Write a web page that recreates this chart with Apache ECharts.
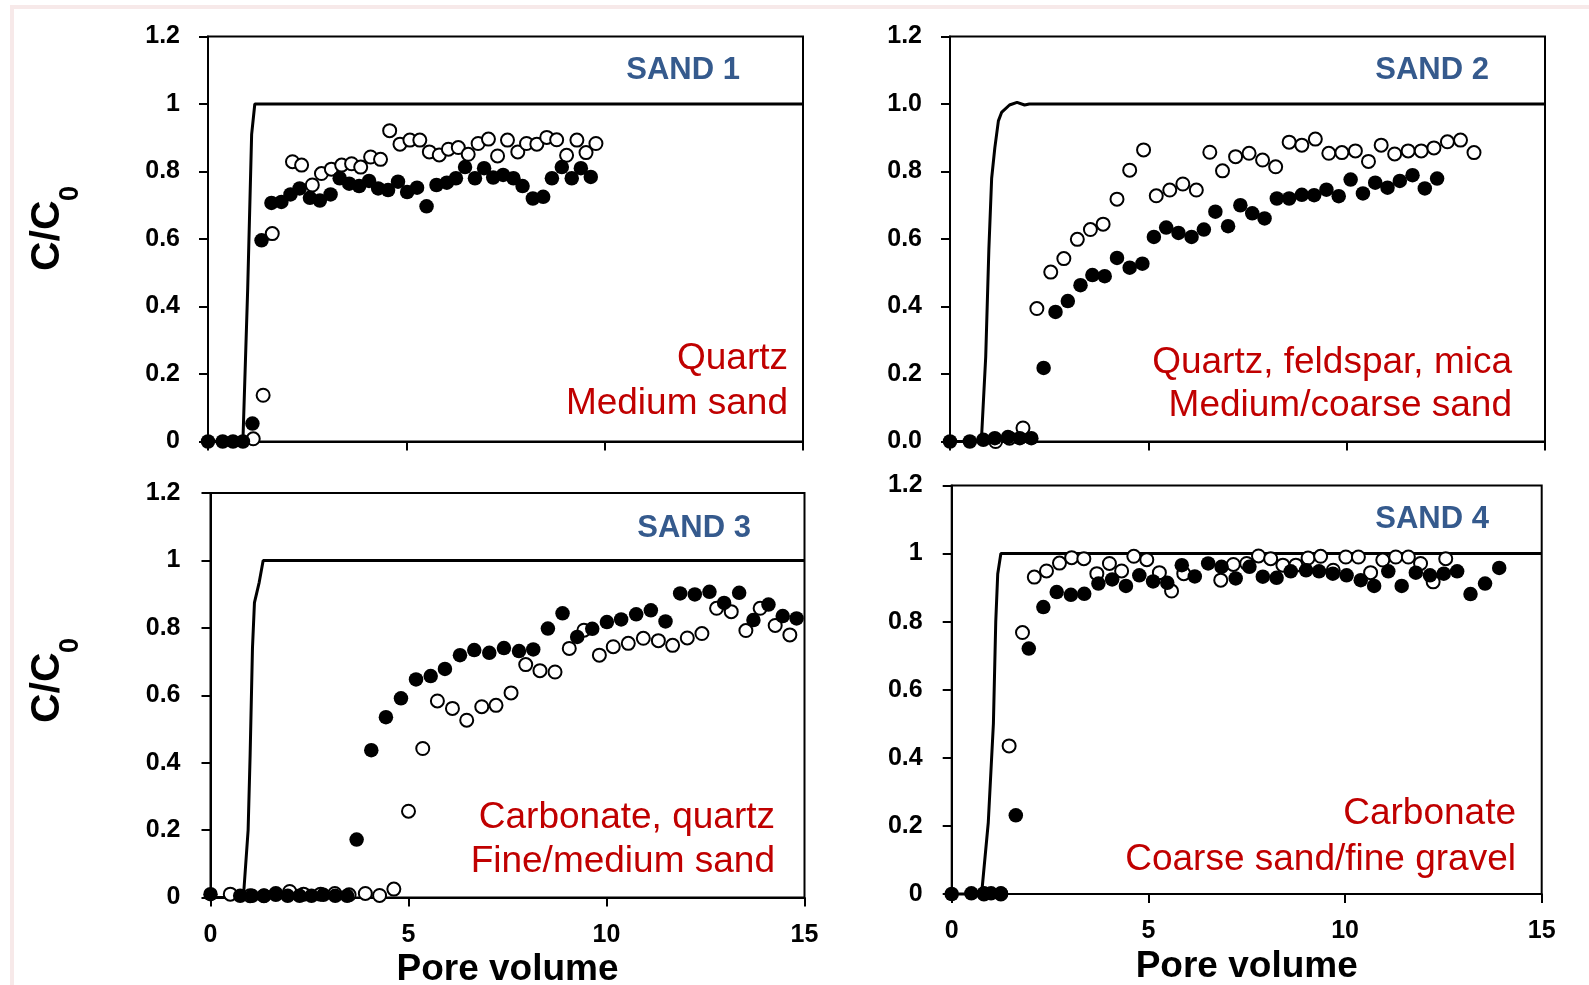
<!DOCTYPE html>
<html><head><meta charset="utf-8">
<script src="https://cdn.jsdelivr.net/npm/echarts@6/dist/echarts.min.js"></script>
<style>html,body{margin:0;padding:0;background:#fff}#c{width:1589px;height:985px}</style>
</head><body><div id="c"></div>
<script>
// ---------- data ----------
const xTickLabels = ['0', '5', '10', '15'];
const yTickLabelsA = ['0', '0.2', '0.4', '0.6', '0.8', '1', '1.2'];
const yTickLabelsB = ['0.0', '0.2', '0.4', '0.6', '0.8', '1.0', '1.2'];
const panelTitles = ['SAND 1', 'SAND 2', 'SAND 3', 'SAND 4'];
const panelNotes = [
  ['Quartz', 'Medium sand'],
  ['Quartz, feldspar, mica', 'Medium/coarse sand'],
  ['Carbonate, quartz', 'Fine/medium sand'],
  ['Carbonate', 'Coarse sand/fine gravel']
];

const sand1Filled = [[0,0],[0.37,0],[0.63,0],[0.88,0],[1.12,0.053],[1.35,0.596],[1.60,0.707],[1.85,0.710],[2.08,0.732],[2.31,0.750],[2.57,0.722],[2.82,0.714],[3.09,0.732],[3.32,0.780],[3.56,0.764],[3.81,0.757],[4.06,0.772],[4.29,0.750],[4.54,0.745],[4.79,0.770],[5.02,0.739],[5.27,0.752],[5.51,0.697],[5.76,0.760],[6.02,0.767],[6.25,0.780],[6.48,0.813],[6.73,0.780],[6.96,0.810],[7.19,0.782],[7.44,0.790],[7.70,0.780],[7.93,0.757],[8.19,0.720],[8.45,0.725],[8.67,0.780],[8.92,0.813],[9.17,0.780],[9.40,0.810],[9.65,0.784]];
const sand1Open = [[1.14,0.008],[1.39,0.137],[1.62,0.616],[2.13,0.829],[2.36,0.819],[2.63,0.760],[2.86,0.794],[3.11,0.807],[3.37,0.819],[3.62,0.823],[3.85,0.813],[4.10,0.843],[4.35,0.836],[4.58,0.921],[4.84,0.881],[5.09,0.893],[5.34,0.893],[5.58,0.858],[5.83,0.849],[6.06,0.866],[6.31,0.871],[6.56,0.851],[6.81,0.883],[7.07,0.896],[7.30,0.846],[7.55,0.893],[7.81,0.858],[8.03,0.883],[8.29,0.881],[8.54,0.901],[8.79,0.894],[9.04,0.848],[9.30,0.893],[9.53,0.856],[9.78,0.883]];
const sand1Curve = [[0,0],[0.88,0],[1.0,0.45],[1.1,0.91],[1.18,1],[15,1]];

const sand2Filled = [[0,0],[0.5,0],[0.84,0.005],[1.13,0.01],[1.46,0.013],[1.76,0.01],[2.05,0.01],[2.36,0.218],[2.66,0.384],[2.97,0.416],[3.29,0.463],[3.59,0.493],[3.90,0.490],[4.21,0.544],[4.53,0.515],[4.85,0.527],[5.14,0.606],[5.45,0.634],[5.76,0.618],[6.09,0.606],[6.40,0.628],[6.69,0.681],[7.01,0.638],[7.32,0.700],[7.62,0.676],[7.93,0.661],[8.24,0.720],[8.55,0.720],[8.87,0.731],[9.18,0.730],[9.49,0.746],[9.80,0.727],[10.10,0.776],[10.41,0.735],[10.72,0.767],[11.03,0.752],[11.34,0.772],[11.66,0.789],[11.97,0.750],[12.28,0.779]];
const sand2Open = [[1.15,0.0],[1.5,0.01],[1.84,0.04],[2.19,0.394],[2.54,0.502],[2.87,0.542],[3.21,0.599],[3.54,0.628],[3.86,0.644],[4.21,0.718],[4.53,0.804],[4.88,0.864],[5.20,0.728],[5.54,0.745],[5.87,0.763],[6.21,0.745],[6.55,0.857],[6.87,0.802],[7.20,0.844],[7.54,0.854],[7.88,0.834],[8.21,0.814],[8.55,0.887],[8.87,0.878],[9.21,0.896],[9.55,0.854],[9.88,0.856],[10.22,0.861],[10.55,0.830],[10.87,0.878],[11.21,0.852],[11.55,0.861],[11.88,0.861],[12.20,0.870],[12.54,0.888],[12.87,0.893],[13.21,0.856]];
const sand2Curve = [[0,0],[0.79,0],[0.9,0.25],[0.98,0.57],[1.05,0.78],[1.13,0.87],[1.22,0.95],[1.3,0.975],[1.5,0.997],[1.69,1.005],[1.88,0.997],[2.0,1.0],[15,1]];

const sand3Filled = [[0,0.01],[0.75,0.005],[1.05,0.005],[1.35,0.005],[1.65,0.008],[1.95,0.005],[2.25,0.005],[2.55,0.005],[2.85,0.008],[3.15,0.005],[3.45,0.005],[3.69,0.172],[4.06,0.437],[4.43,0.535],[4.81,0.591],[5.19,0.647],[5.56,0.657],[5.92,0.678],[6.30,0.719],[6.66,0.734],[7.04,0.726],[7.41,0.740],[7.79,0.731],[8.15,0.736],[8.52,0.798],[8.89,0.843],[9.26,0.773],[9.64,0.797],[10.01,0.817],[10.37,0.825],[10.75,0.840],[11.12,0.852],[11.49,0.819],[11.86,0.902],[12.23,0.899],[12.60,0.907],[12.97,0.874],[13.35,0.904],[13.71,0.823],[14.09,0.869],[14.45,0.835],[14.80,0.828]];
const sand3Open = [[0.5,0.01],[1.0,0.005],[1.35,0.005],[1.65,0.012],[2.0,0.018],[2.35,0.01],[2.78,0.01],[3.14,0.012],[3.5,0.008],[3.91,0.012],[4.27,0.006],[4.63,0.025],[5.0,0.256],[5.36,0.442],[5.73,0.583],[6.11,0.561],[6.47,0.526],[6.85,0.566],[7.21,0.570],[7.59,0.607],[7.96,0.691],[8.32,0.673],[8.70,0.669],[9.06,0.739],[9.43,0.793],[9.82,0.719],[10.17,0.744],[10.55,0.754],[10.93,0.769],[11.31,0.762],[11.67,0.748],[12.04,0.770],[12.41,0.783],[12.78,0.858],[13.15,0.848],[13.52,0.792],[13.88,0.858],[14.26,0.807],[14.63,0.779]];
const sand3Curve = [[0,0],[0.83,0],[0.95,0.2],[1.0,0.42],[1.06,0.74],[1.11,0.875],[1.23,0.935],[1.33,1.0],[15,1]];

const sand4Filled = [[0,0],[0.5,0.002],[0.82,0.002],[1.0,0.002],[1.25,0.002],[1.63,0.231],[1.96,0.721],[2.33,0.843],[2.67,0.887],[3.03,0.879],[3.37,0.882],[3.73,0.912],[4.08,0.924],[4.43,0.905],[4.77,0.936],[5.12,0.918],[5.48,0.914],[5.85,0.966],[6.18,0.933],[6.52,0.971],[6.86,0.961],[7.22,0.927],[7.57,0.961],[7.91,0.932],[8.26,0.929],[8.62,0.948],[9.01,0.951],[9.34,0.948],[9.69,0.941],[10.04,0.936],[10.40,0.922],[10.74,0.905],[11.10,0.948],[11.44,0.905],[11.80,0.944],[12.16,0.936],[12.51,0.941],[12.85,0.948],[13.19,0.881],[13.56,0.912],[13.92,0.958]];
const sand4Open = [[0.82,0],[1.25,0],[1.46,0.435],[1.80,0.768],[2.10,0.931],[2.41,0.949],[2.74,0.972],[3.05,0.988],[3.36,0.985],[3.69,0.941],[4.01,0.971],[4.32,0.949],[4.63,0.992],[4.96,0.982],[5.28,0.944],[5.59,0.890],[5.90,0.941],[6.84,0.922],[7.16,0.968],[7.50,0.971],[7.80,0.993],[8.11,0.985],[8.42,0.966],[8.75,0.966],[9.06,0.987],[9.38,0.992],[9.70,0.951],[10.02,0.990],[10.34,0.990],[10.65,0.944],[10.96,0.981],[11.29,0.990],[11.61,0.990],[11.92,0.971],[12.24,0.917],[12.56,0.985]];
const sand4Curve = [[0,0],[0.76,0],[0.93,0.21],[1.06,0.5],[1.12,0.8],[1.17,0.94],[1.25,1.0],[15,1]];

// ---------- layout / style ----------
const FONT = '"Liberation Sans", Arial, sans-serif';
const grids = [
  {left: 208, top: 36.5, width: 595, height: 405},
  {left: 950, top: 36.5, width: 595, height: 405},
  {left: 210.5, top: 493, width: 594, height: 404.5},
  {left: 951.7, top: 485.5, width: 590, height: 408.5}
];
const yLabelSets = [yTickLabelsA, yTickLabelsB, yTickLabelsA, yTickLabelsA];
const yLabelMargins = [28, 28, 30, 29];
const panelData = [
  [sand1Filled, sand1Open, sand1Curve],
  [sand2Filled, sand2Open, sand2Curve],
  [sand3Filled, sand3Open, sand3Curve],
  [sand4Filled, sand4Open, sand4Curve]
];

const chart = echarts.init(document.getElementById('c'), null, {renderer: 'canvas'});

const xAxes = grids.map((g, i) => ({
  gridIndex: i, type: 'value', min: 0, max: 15, interval: 5,
  axisLine: {show: true, onZero: false, lineStyle: {color: '#000', width: 2}},
  axisTick: {show: true, inside: false, length: 9, lineStyle: {color: '#000', width: 2}},
  axisLabel: {show: i >= 2, margin: 25, fontSize: 25, fontWeight: 'bold', color: '#000', fontFamily: FONT,
    formatter: v => xTickLabels[Math.round(v / 5)]},
  splitLine: {show: false},
  name: i >= 2 ? 'Pore volume' : '',
  nameLocation: 'middle', nameGap: 54,
  nameTextStyle: {fontSize: 37, fontWeight: 'bold', color: '#000', fontFamily: FONT}
}));
const yAxes = grids.map((g, i) => ({
  gridIndex: i, type: 'value', min: 0, max: 1.2, interval: 0.2,
  axisLine: {show: true, onZero: false, lineStyle: {color: '#000', width: 2}},
  axisTick: {show: true, inside: false, length: 9, lineStyle: {color: '#000', width: 2}},
  axisLabel: {margin: yLabelMargins[i], fontSize: 25, fontWeight: 'bold', color: '#000', fontFamily: FONT,
    formatter: v => yLabelSets[i][Math.round(v / 0.2)]},
  splitLine: {show: false}
}));

const series = [];
panelData.forEach(([filled, open, curve], i) => {
  series.push({type: 'line', xAxisIndex: i, yAxisIndex: i, data: curve, showSymbol: false, symbol: 'none',
    lineStyle: {color: '#000', width: 3}, z: 2, silent: true, animation: false, clip: false});
  series.push({type: 'scatter', xAxisIndex: i, yAxisIndex: i, data: open, symbol: 'circle', symbolSize: 13,
    itemStyle: {color: '#fff', borderColor: '#000', borderWidth: 2, opacity: 1}, z: 3, silent: true, animation: false, clip: false});
  series.push({type: 'scatter', xAxisIndex: i, yAxisIndex: i, data: filled, symbol: 'circle', symbolSize: 14.5,
    itemStyle: {color: '#000', opacity: 1}, z: 4, silent: true, animation: false, clip: false});
});

// annotation placement (pixels)
const titlePos = [[740, 70], [1489, 70], [751, 528], [1489, 519]];
const notePos = [[788, 359, 404], [1512, 363, 406], [775, 818, 862], [1516, 814, 860]];
const yTitlePos = [[48, 271], [48, 723]];

const graphic = [
  {type: 'rect', shape: {x: 12, y: 7, width: 1600, height: 1000}, style: {fill: 'none', stroke: '#f7e9e9', lineWidth: 4}, z: -10, silent: true}
];
panelTitles.forEach((t, i) => {
  graphic.push({type: 'text', x: titlePos[i][0], y: titlePos[i][1], silent: true, z: 10,
    style: {text: t, fill: '#355a8d', font: 'bold 31px ' + FONT, textAlign: 'right', textVerticalAlign: 'middle'}});
});
panelNotes.forEach((lines, i) => {
  graphic.push({type: 'text', x: notePos[i][0], y: notePos[i][1], silent: true, z: 10,
    style: {text: lines[0], fill: '#c00000', font: '37px ' + FONT, textAlign: 'right', textVerticalAlign: 'middle'}});
  graphic.push({type: 'text', x: notePos[i][0], y: notePos[i][2], silent: true, z: 10,
    style: {text: lines[1], fill: '#c00000', font: '37px ' + FONT, textAlign: 'right', textVerticalAlign: 'middle'}});
});
yTitlePos.forEach(([x, y]) => {
  graphic.push({type: 'group', x: x, y: y, rotation: Math.PI / 2, silent: true, z: 10, children: [
    {type: 'text', x: 0, y: 0, style: {text: 'C/C', fill: '#000', font: 'bold 41px ' + FONT, textAlign: 'left', textVerticalAlign: 'middle'}},
    {type: 'text', x: 70, y: 23, style: {text: '0', fill: '#000', font: 'bold 27px ' + FONT, textAlign: 'left', textVerticalAlign: 'middle'}}
  ]});
});

chart.setOption({
  animation: false,
  backgroundColor: '#fff',
  grid: grids.map(g => Object.assign({show: true, borderColor: '#000', borderWidth: 2, backgroundColor: 'transparent',
    containLabel: false, outerBoundsMode: 'none'}, g)),
  xAxis: xAxes,
  yAxis: yAxes,
  series: series,
  graphic: graphic
});
</script></body></html>
